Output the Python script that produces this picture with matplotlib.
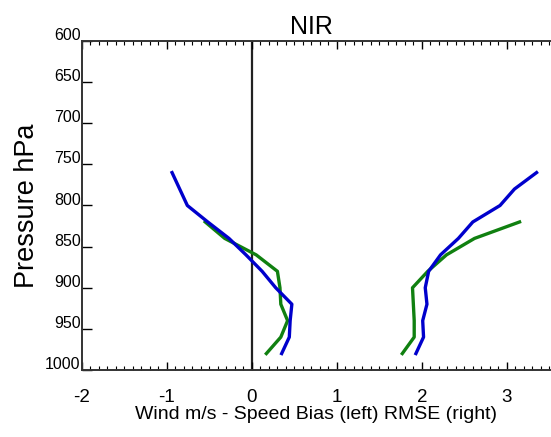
import matplotlib
matplotlib.use("Agg")
import matplotlib.pyplot as plt
from matplotlib.ticker import MultipleLocator
from matplotlib.transforms import ScaledTranslation

plt.rcParams['font.family'] = ['Liberation Sans', 'DejaVu Sans']

# pressure levels (hPa) and wind speed stats (m/s)
levels_blue = [760, 780, 800, 820, 840, 860, 880, 900, 920, 940, 960, 980]
bias_blue = [-0.94, -0.85, -0.76, -0.52, -0.27, -0.07, 0.12, 0.28, 0.47, 0.45, 0.44, 0.35]
rmse_blue = [3.35, 3.09, 2.92, 2.60, 2.43, 2.22, 2.08, 2.04, 2.06, 2.01, 2.02, 1.93]

levels_green = [820, 840, 860, 880, 900, 920, 940, 960, 980]
bias_green = [-0.55, -0.32, 0.05, 0.30, 0.33, 0.34, 0.42, 0.34, 0.17]
rmse_green = [3.15, 2.62, 2.29, 2.07, 1.89, 1.90, 1.91, 1.91, 1.77]

yticks = [600, 650, 700, 750, 800, 850, 900, 950, 1000]
xticks = [-2, -1, 0, 1, 2, 3]

fig = plt.figure(figsize=(5.51, 4.37), dpi=100)
ax = fig.add_axes([0.1488, 0.1533, 0.8512, 0.7529])

blue = '#0000cc'
green = '#108010'
ax.axvline(0, color='#222222', lw=1.6, zorder=1)
ax.plot(bias_blue, levels_blue, color=blue, lw=2.4, zorder=3)
ax.plot(rmse_blue, levels_blue, color=blue, lw=2.4, zorder=3)
ax.plot(bias_green, levels_green, color=green, lw=2.4, zorder=2)
ax.plot(rmse_green, levels_green, color=green, lw=2.4, zorder=2)

ax.set_xlim(-2, 3.52)
ax.set_ylim(1000, 600)

ax.set_xticks(xticks)
ax.set_xticklabels([str(t) for t in xticks], fontsize=13.5)
ax.xaxis.set_minor_locator(MultipleLocator(0.1))
ax.tick_params(axis='x', which='major', direction='in', length=6, width=1,
               top=True, bottom=True, pad=14)
ax.tick_params(axis='x', which='minor', direction='in', length=3, width=0.8,
               top=True, bottom=True)

ax.set_yticks(yticks)
ax.set_yticklabels([str(t) for t in yticks], fontsize=11.5)
ax.tick_params(axis='y', which='major', direction='in', length=7, width=1, pad=1)
for lab in ax.get_yticklabels():
    lab.set_transform(lab.get_transform() + ScaledTranslation(0, 5 / 72, fig.dpi_scale_trans))

for side in ['left', 'bottom', 'top']:
    ax.spines[side].set_linewidth(1.4)
    ax.spines[side].set_color('#333333')
ax.spines['right'].set_visible(False)

ax.set_title('NIR', fontsize=18, pad=5, x=0.49)
ax.set_xlabel('Wind m/s - Speed Bias (left) RMSE (right)', fontsize=14, labelpad=0)
ax.set_ylabel('Pressure hPa', fontsize=19.5, labelpad=4)

fig.savefig('out.png', dpi=100)
